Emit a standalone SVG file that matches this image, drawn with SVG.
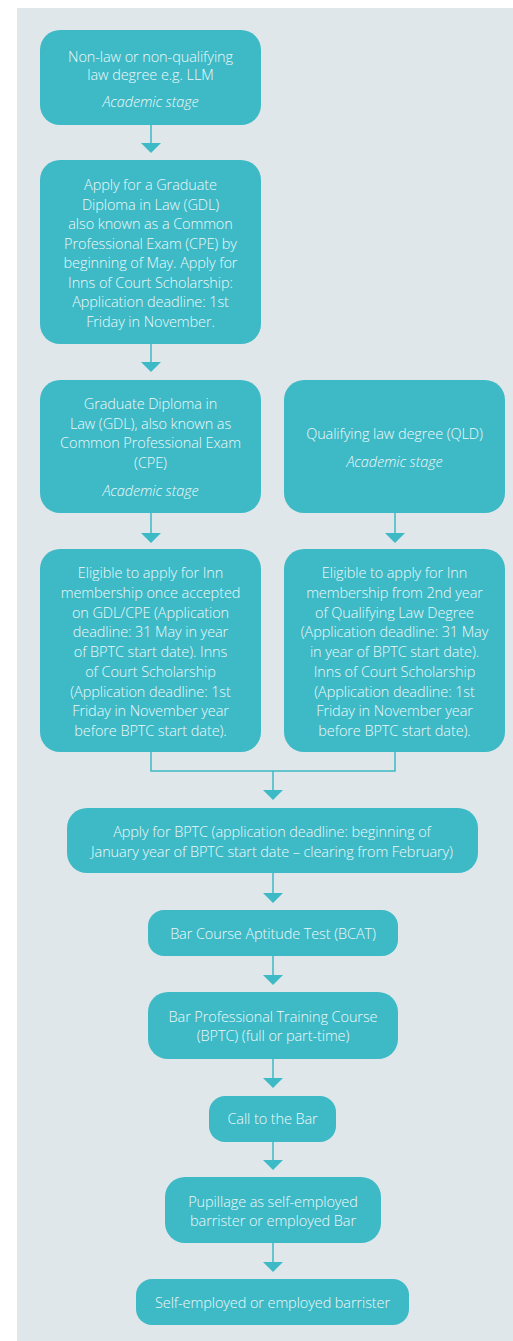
<svg xmlns="http://www.w3.org/2000/svg" width="513" height="1341" viewBox="0 0 513 1341">
<defs>
<style>
.bg{fill:#e0e7ea}
.box{fill:#3dbac6}
.t{font-family:"Open Sans","Liberation Sans",sans-serif;font-size:14.5px;fill:#eef8fa;text-anchor:middle;font-weight:300;letter-spacing:-0.1px}
.i{font-style:italic}
.c{stroke:#3dbac6;stroke-width:1.5;fill:none}
.h{fill:#3dbac6}
</style>
</defs>
<rect class="bg" x="17" y="8" width="496" height="1333"/>
<g id="connectors">
<line class="c" x1="151" y1="125" x2="151" y2="144"/><polygon class="h" points="141,143 161,143 151,153"/>
<line class="c" x1="151" y1="344" x2="151" y2="363"/><polygon class="h" points="141,362 161,362 151,372"/>
<line class="c" x1="151" y1="513" x2="151" y2="534"/><polygon class="h" points="141,533 161,533 151,543"/>
<line class="c" x1="395" y1="513" x2="395" y2="534"/><polygon class="h" points="385,533 405,533 395,543"/>
<polyline class="c" points="151,752 151,771 395,771 395,752"/>
<line class="c" x1="273" y1="771" x2="273" y2="791"/><polygon class="h" points="263,790 283,790 273,800"/>
<line class="c" x1="273" y1="873" x2="273" y2="894"/><polygon class="h" points="263,893 283,893 273,903"/>
<line class="c" x1="273" y1="956" x2="273" y2="976"/><polygon class="h" points="263,975 283,975 273,985"/>
<line class="c" x1="273" y1="1059" x2="273" y2="1079"/><polygon class="h" points="263,1078 283,1078 273,1088"/>
<line class="c" x1="273" y1="1142" x2="273" y2="1161"/><polygon class="h" points="263,1160 283,1160 273,1170"/>
<line class="c" x1="273" y1="1243" x2="273" y2="1263"/><polygon class="h" points="263,1262 283,1262 273,1272"/>
</g>
<g id="n1">
<rect class="box" x="40" y="30" width="221" height="95" rx="20"/>
<text class="t" x="150.5" y="62">Non-law or non-qualifying</text>
<text class="t" x="150.5" y="80">law degree e.g. LLM</text>
<text class="t i" x="150.5" y="107">Academic stage</text>
</g>
<g id="n2">
<rect class="box" x="40" y="160" width="221" height="184" rx="20"/>
<text class="t" x="150.5" y="190">Apply for a Graduate</text>
<text class="t" x="150.5" y="209.5">Diploma in Law (GDL)</text>
<text class="t" x="150.5" y="229">also known as a Common</text>
<text class="t" x="150.5" y="248.5">Professional Exam (CPE) by</text>
<text class="t" x="150.5" y="268">beginning of May. Apply for</text>
<text class="t" x="150.5" y="287.5">Inns of Court Scholarship:</text>
<text class="t" x="150.5" y="307">Application deadline: 1st</text>
<text class="t" x="150.5" y="326.5">Friday in November.</text>
</g>
<g id="n3">
<rect class="box" x="40" y="380" width="221" height="133" rx="20"/>
<text class="t" x="150.5" y="409">Graduate Diploma in</text>
<text class="t" x="150.5" y="428.5">Law (GDL), also known as</text>
<text class="t" x="150.5" y="448">Common Professional Exam</text>
<text class="t" x="150.5" y="467.5">(CPE)</text>
<text class="t i" x="150.5" y="496">Academic stage</text>
</g>
<g id="n4">
<rect class="box" x="284" y="380" width="221" height="133" rx="20"/>
<text class="t" x="394.5" y="439">Qualifying law degree (QLD)</text>
<text class="t i" x="394.5" y="467">Academic stage</text>
</g>
<g id="n5">
<rect class="box" x="40" y="549" width="221" height="203" rx="20"/>
<text class="t" x="150.5" y="578">Eligible to apply for Inn</text>
<text class="t" x="150.5" y="597.75">membership once accepted</text>
<text class="t" x="150.5" y="617.5">on GDL/CPE (Application</text>
<text class="t" x="150.5" y="637.25">deadline: 31 May in year</text>
<text class="t" x="150.5" y="657">of BPTC start date). Inns</text>
<text class="t" x="150.5" y="676.75">of Court Scholarship</text>
<text class="t" x="150.5" y="696.5">(Application deadline: 1st</text>
<text class="t" x="150.5" y="716.25">Friday in November year</text>
<text class="t" x="150.5" y="736">before BPTC start date).</text>
</g>
<g id="n6">
<rect class="box" x="284" y="549" width="221" height="203" rx="20"/>
<text class="t" x="394.5" y="578">Eligible to apply for Inn</text>
<text class="t" x="394.5" y="597.75">membership from 2nd year</text>
<text class="t" x="394.5" y="617.5">of Qualifying Law Degree</text>
<text class="t" x="394.5" y="637.25">(Application deadline: 31 May</text>
<text class="t" x="394.5" y="657">in year of BPTC start date).</text>
<text class="t" x="394.5" y="676.75">Inns of Court Scholarship</text>
<text class="t" x="394.5" y="696.5">(Application deadline: 1st</text>
<text class="t" x="394.5" y="716.25">Friday in November year</text>
<text class="t" x="394.5" y="736">before BPTC start date).</text>
</g>
<g id="n7">
<rect class="box" x="67" y="808" width="411" height="65" rx="20"/>
<text class="t" x="272" y="837">Apply for BPTC (application deadline: beginning of</text>
<text class="t" x="272" y="857">January year of BPTC start date – clearing from February)</text>
</g>
<g id="n8">
<rect class="box" x="148" y="910" width="250" height="46" rx="16"/>
<text class="t" x="273" y="939">Bar Course Aptitude Test (BCAT)</text>
</g>
<g id="n9">
<rect class="box" x="148" y="992" width="250" height="67" rx="20"/>
<text class="t" x="273" y="1022">Bar Professional Training Course</text>
<text class="t" x="273" y="1041">(BPTC) (full or part-time)</text>
</g>
<g id="n10">
<rect class="box" x="209" y="1096" width="127" height="46" rx="16"/>
<text class="t" x="272.5" y="1124">Call to the Bar</text>
</g>
<g id="n11">
<rect class="box" x="165" y="1177" width="216" height="66" rx="20"/>
<text class="t" x="273" y="1207">Pupillage as self-employed</text>
<text class="t" x="273" y="1226">barrister or employed Bar</text>
</g>
<g id="n12">
<rect class="box" x="136" y="1279" width="273" height="46" rx="16"/>
<text class="t" x="272.5" y="1308">Self-employed or employed barrister</text>
</g>
</svg>
